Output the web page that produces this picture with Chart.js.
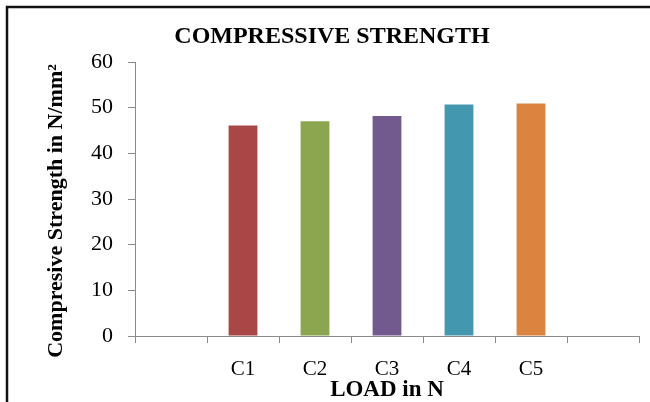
<!DOCTYPE html>
<html>
<head>
<meta charset="utf-8">
<script src="https://cdn.jsdelivr.net/npm/chart.js@4/dist/chart.umd.min.js"></script>
<style>
  html, body { margin: 0; padding: 0; background: #fff; }
  #wrap { width: 650px; height: 402px; position: relative; }
</style>
</head>
<body>
<div id="wrap"><canvas id="chart" width="650" height="402"></canvas></div>
<script>
// Mix designs (blank slots at both ends leave empty space beside the bars)
const categories = ["", "C1", "C2", "C3", "C4", "C5", ""];
// Compressive strength, N/mm²
const strength = [null, 46.1, 47.0, 48.2, 50.7, 50.9, null];
const barColors = ["#A94746", "#A94746", "#8BA64F", "#735A8E", "#4397AF", "#DB843F", "#DB843F"];
const yTicks = [0, 10, 20, 30, 40, 50, 60];

const chartTitle = "COMPRESSIVE STRENGTH";
const xTitle = "LOAD in N";
const yTitle = "Compresive Strength in N/mm²";

const SERIF = '"Liberation Serif", "Times New Roman", serif';
const AXIS = "#8a8a8a";

// Outer frame, heading and the vertical axis caption
const framePlugin = {
  id: "frame",
  afterDraw(chart) {
    const ctx = chart.ctx;
    ctx.save();
    ctx.strokeStyle = "#111";
    ctx.lineWidth = 2.5;
    ctx.beginPath();
    ctx.moveTo(7, 402);
    ctx.lineTo(7, 7);
    ctx.lineTo(650, 7);
    ctx.stroke();

    ctx.fillStyle = "#000";
    ctx.textAlign = "center";
    ctx.textBaseline = "middle";
    ctx.font = "bold 24px " + SERIF;
    ctx.fillText(chartTitle, 332, 37);

    ctx.translate(56, 211);
    ctx.rotate(-Math.PI / 2);
    ctx.font = "bold 22px " + SERIF;
    ctx.fillText(yTitle, 0, 0);
    ctx.restore();
  }
};

new Chart(document.getElementById("chart"), {
  type: "bar",
  data: {
    labels: categories,
    datasets: [{
      data: strength,
      backgroundColor: barColors,
      borderWidth: 0,
      barPercentage: 0.4,
      categoryPercentage: 1.0
    }]
  },
  options: {
    responsive: false,
    animation: false,
    devicePixelRatio: 1,
    layout: { padding: { left: 0, right: 11, top: 62, bottom: 0 } },
    plugins: {
      legend: { display: false },
      tooltip: { enabled: false },
      title: { display: false }
    },
    scales: {
      x: {
        offset: true,
        grid: {
          offset: true,
          drawOnChartArea: false,
          drawTicks: true,
          tickLength: 7,
          color: AXIS
        },
        border: { display: true, color: AXIS, width: 1 },
        ticks: {
          padding: 14,
          color: "#000",
          font: { family: SERIF, size: 21 },
          maxRotation: 0,
          autoSkip: false
        },
        title: {
          display: true,
          text: xTitle,
          color: "#000",
          font: { family: SERIF, size: 23, weight: "bold", lineHeight: 1.1 },
          padding: { top: 0, bottom: -1 }
        },
        afterFit(scale) { scale.height = 66; }
      },
      y: {
        min: 0,
        max: 60,
        afterBuildTicks(scale) { scale.ticks = yTicks.map(v => ({ value: v })); },
        grid: {
          drawOnChartArea: false,
          drawTicks: true,
          tickLength: 7,
          color: AXIS
        },
        border: { display: true, color: AXIS, width: 1 },
        ticks: {
          padding: 15,
          color: "#000",
          font: { family: SERIF, size: 22 }
        },
        afterFit(scale) { scale.width = 135; }
      }
    }
  },
  plugins: [framePlugin]
});
</script>
</body>
</html>
